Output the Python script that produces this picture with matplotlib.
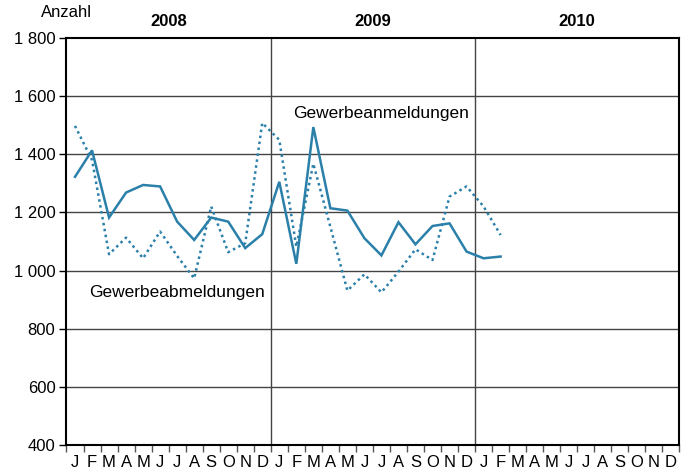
import numpy as np
import matplotlib.pyplot as plt

plt.rcParams['font.family'] = ['Liberation Sans', 'DejaVu Sans']

# monthly values Jan 2008 .. Feb 2010
anmeldungen = [1322, 1413, 1182, 1268, 1294, 1289, 1168, 1105, 1182, 1168, 1077, 1125,
               1305, 1023, 1493, 1214, 1206, 1111, 1052, 1166, 1090, 1153, 1162, 1065,
               1042, 1048]
abmeldungen = [1497, 1380, 1056, 1113, 1042, 1134, 1050, 973, 1220, 1063, 1094, 1507,
               1449, 1082, 1367, 1150, 931, 987, 925, 996, 1073, 1036, 1254, 1289,
               1220, 1122]
years = ['2008', '2009', '2010']
month_letters = ['J', 'F', 'M', 'A', 'M', 'J', 'J', 'A', 'S', 'O', 'N', 'D']

color = '#2b80aa'

fig = plt.figure(figsize=(6.89, 4.75), dpi=100)
ax = fig.add_axes([0.0965, 0.063, 0.8895, 0.8575])

x1 = np.arange(len(anmeldungen)) + 0.5
x2 = np.arange(len(abmeldungen)) + 0.5
ax.plot(x1, anmeldungen, color=color, lw=1.8, solid_joinstyle='miter')
ax.plot(x2, abmeldungen, color=color, lw=1.8, linestyle=(0, (1, 1.4)))

ax.set_xlim(0, 36)
ax.set_ylim(400, 1800)

# grid
for y in range(600, 1800, 200):
    ax.axhline(y, color='#444444', lw=1.0, zorder=0)
for xv in [12, 24]:
    ax.axvline(xv, color='#444444', lw=1.0, zorder=0)

yt = list(range(400, 1801, 200))
ax.set_yticks(yt)
ax.set_yticklabels([f'{v:,}'.replace(',', ' ') for v in yt], fontsize=12)
ax.tick_params(axis='y', length=5, width=1, pad=3)

ax.set_xticks(np.arange(0, 37), minor=True)
ax.set_xticks(np.arange(36) + 0.5)
ax.set_xticklabels(month_letters * 3, fontsize=12)
ax.tick_params(axis='x', which='major', length=0, pad=7)
ax.tick_params(axis='x', which='minor', length=5, width=1, color='#555555')

for s in ax.spines.values():
    s.set_color('black')
    s.set_linewidth(1.5)

for i, yr in enumerate(years):
    ax.text(i * 12 + 6, 1830, yr, ha='center', va='bottom', fontsize=12, fontweight='bold')
ax.text(0.0, 1860, 'Anzahl', ha='center', va='bottom', fontsize=12)

ax.text(18.5, 1540, 'Gewerbeanmeldungen', ha='center', va='center', fontsize=12.5)
ax.text(6.5, 923, 'Gewerbeabmeldungen', ha='center', va='center', fontsize=12.5)

fig.savefig('out.png', dpi=100)
